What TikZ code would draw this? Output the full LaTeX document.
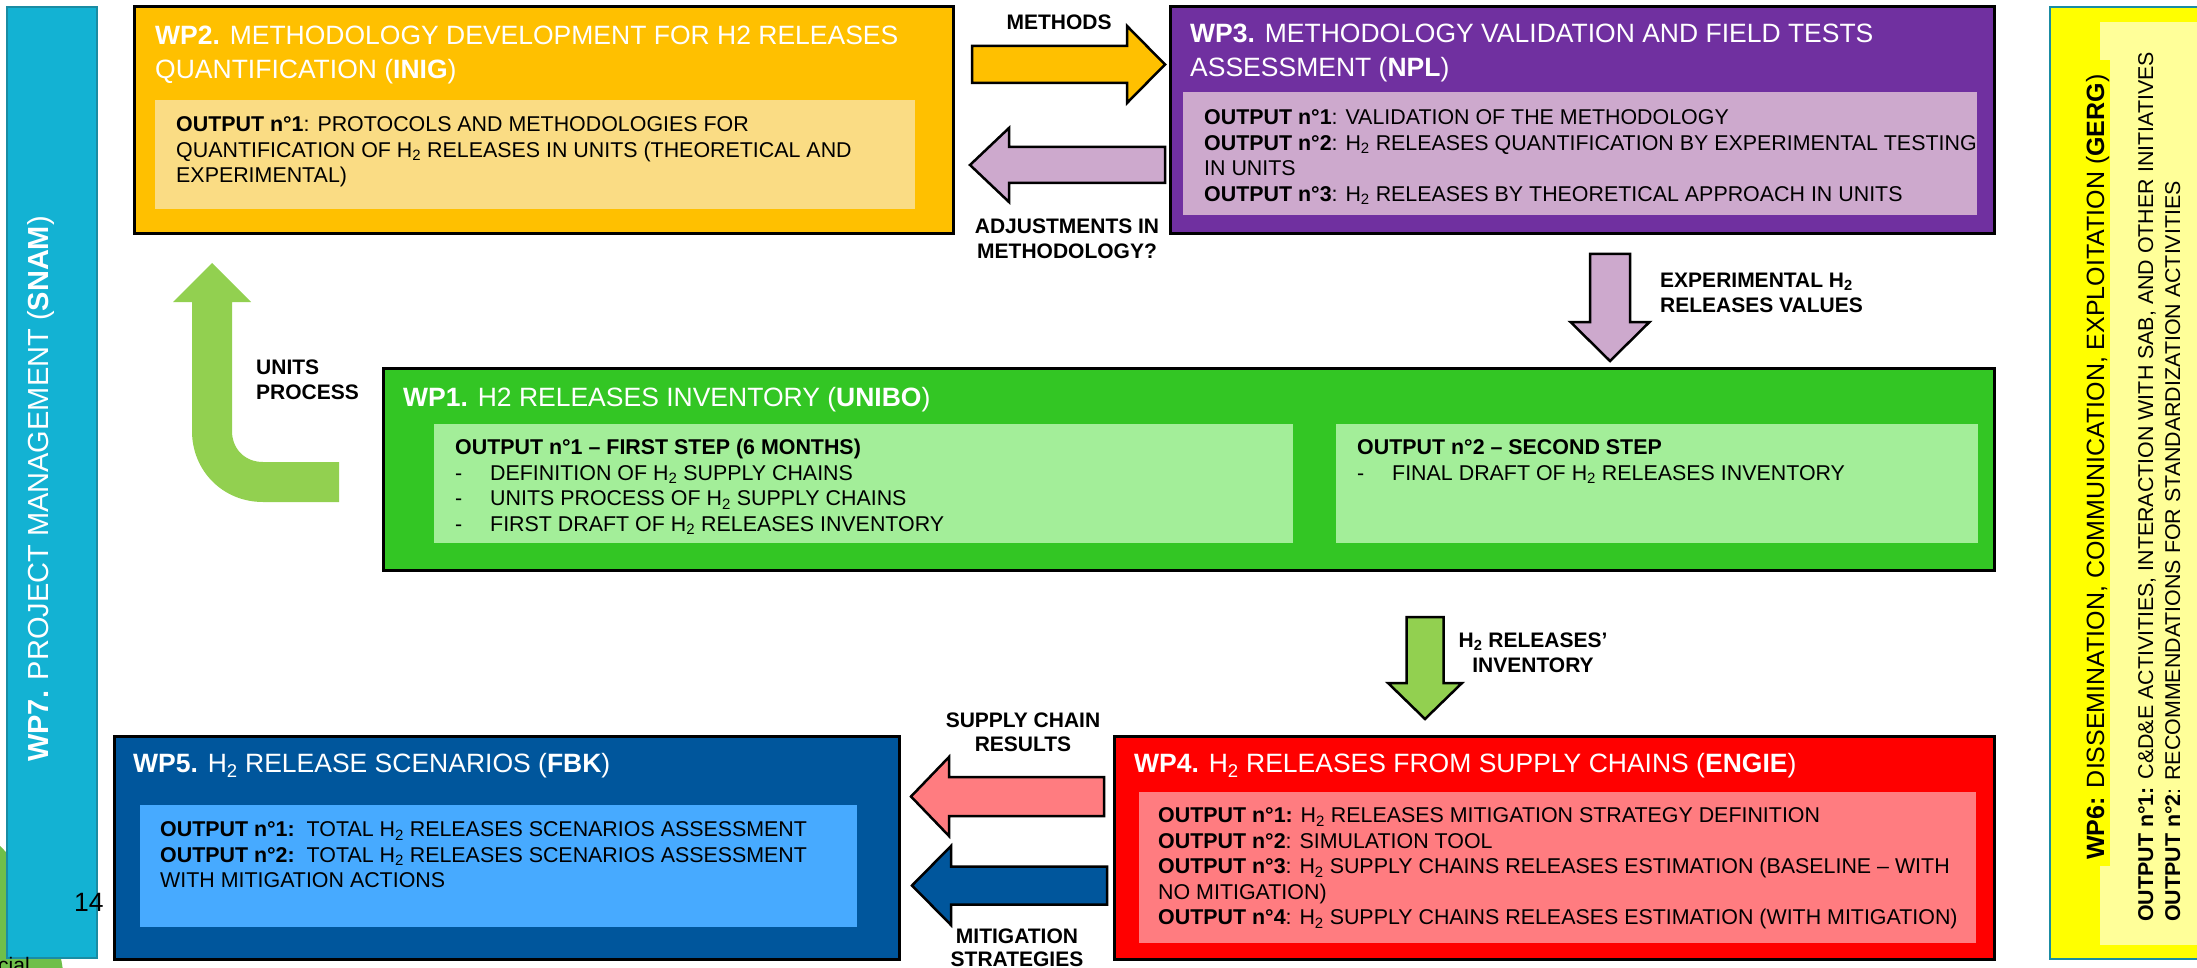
\documentclass[tikz,border=0pt]{standalone}
\usepackage{fontspec}
\setmainfont{Liberation Sans}
\usetikzlibrary{calc}
\definecolor{wpsev}{HTML}{13B2D3}
\definecolor{wpsevd}{HTML}{1A8CA3}
\definecolor{wptwo}{HTML}{FFC000}
\definecolor{wptwoi}{HTML}{FADC84}
\definecolor{wpthree}{HTML}{7030A0}
\definecolor{wpthreei}{HTML}{CDA9CD}
\definecolor{wpone}{HTML}{33C624}
\definecolor{wponei}{HTML}{A3EE99}
\definecolor{wpfour}{HTML}{FF0000}
\definecolor{wpfouri}{HTML}{FF7C80}
\definecolor{wpfive}{HTML}{00569C}
\definecolor{wpfivei}{HTML}{47AAFF}
\definecolor{wpsix}{HTML}{FFFF00}
\definecolor{wpsixi}{HTML}{FFFF99}
\definecolor{lgreen}{HTML}{92D050}
\definecolor{blob}{HTML}{6FBF4A}
\newcommand\blockarrow[6]{%
  \path ($(#3)!#6!(#2)$) coordinate (hb);
  \draw[#1] ($(#2)!#4!90:(#3)$) -- ($(hb)!#4!90:(#3)$) -- ($(hb)!#5!90:(#3)$) -- (#3)
    -- ($(hb)!#5!-90:(#3)$) -- ($(hb)!#4!-90:(#3)$) -- ($(#2)!#4!-90:(#3)$) -- cycle;}
\newcommand\sT{\rule{0pt}{20pt}}
\newcommand\sO{\rule{0pt}{16pt}}
\newcommand\Hy{H\textsubscript{2}}
\newcommand\bul{\makebox[35pt][l]{-}}
\begin{document}
\begin{tikzpicture}[x=1pt,y=-1pt,
  wpbox/.style={draw=black,line width=3pt,inner sep=0,outer sep=0,anchor=north west},
  inbox/.style={draw=none,inner sep=0,outer sep=0,anchor=north west},
  ttl/.style={inner sep=0,anchor=north west,align=left,text=white,font=\fontsize{26.5}{34}\selectfont},
  otx/.style={inner sep=0,anchor=north west,align=left,text=black,font=\fontsize{21.4}{25.5}\selectfont},
  lab/.style={inner sep=0,align=center,font=\fontsize{21}{25}\selectfont\bfseries},
  arr/.style={draw=black,line width=2.5pt,line join=miter},
]
\useasboundingbox (0,0) rectangle (2197,968);
% background slide remnants
\fill[blob] (-150,1000) circle (215);
% WP7 sidebar
\node[inbox,draw=wpsevd,line width=2pt,fill=wpsev,minimum width=90pt,minimum height=951pt] (wp7) at (7,7) {};
\node[rotate=90,anchor=base,inner sep=0,text=white,font=\fontsize{29}{34}\selectfont] (t7) at (48,489)
  {\textbf{WP7.} PROJECT MANAGEMENT (\textbf{SNAM})};
% WP6 sidebar
\node[inbox,draw=wpsevd,line width=2pt,fill=wpsix,minimum width=200pt,minimum height=952pt] (wp6) at (2050,7) {};
\node[inbox,fill=wpsixi,minimum width=150pt,minimum height=923pt] (wp6i) at (2100,22) {};
\fill[wpsix] (2098,60) rectangle (2110,866);
\node[rotate=90,anchor=base west,inner sep=0,font=\fontsize{25}{30}\selectfont] (t6) at (2104,860)
  {\textbf{WP6:} DISSEMINATION, COMMUNICATION, EXPLOITATION (\textbf{GERG})};
\node[rotate=90,anchor=base west,inner sep=0,font=\fontsize{21.4}{25}\selectfont] (o6a) at (2153,922)
  {\textbf{OUTPUT n°1:} C\&D\&E ACTIVITIES, INTERACTION WITH SAB, AND OTHER INITIATIVES};
\node[rotate=90,anchor=base west,inner sep=0,font=\fontsize{21.4}{25}\selectfont] (o6b) at (2180,922)
  {\textbf{OUTPUT n°2}: RECOMMENDATIONS FOR STANDARDIZATION ACTIVITIES};
% WP2
\node[wpbox,fill=wptwo,minimum width=819pt,minimum height=227pt] (wp2) at (134,7) {};
\node[inbox,fill=wptwoi,minimum width=760pt,minimum height=109pt] (wp2i) at (155,100) {};
\node[ttl] (t2) at (155,24.5) {\sT\textbf{WP2.} METHODOLOGY DEVELOPMENT FOR H2 RELEASES\\QUANTIFICATION (\textbf{INIG})};
\node[otx] (o2) at (176,115.7) {\sO\textbf{OUTPUT n°1}: PROTOCOLS AND METHODOLOGIES FOR\\QUANTIFICATION OF \Hy{} RELEASES IN UNITS (THEORETICAL AND\\EXPERIMENTAL)};
% WP3
\node[wpbox,fill=wpthree,minimum width=824pt,minimum height=227pt] (wp3) at (1170,7) {};
\node[inbox,fill=wpthreei,minimum width=794pt,minimum height=123pt] (wp3i) at (1183,92) {};
\node[ttl] (t3) at (1190,22.5) {\sT\textbf{WP3.} METHODOLOGY VALIDATION AND FIELD TESTS\\ASSESSMENT (\textbf{NPL})};
\node[otx] (o3) at (1204,108.7) {\sO\textbf{OUTPUT n°1}: VALIDATION OF THE METHODOLOGY\\
  \textbf{OUTPUT n°2}: \Hy{} RELEASES QUANTIFICATION BY EXPERIMENTAL TESTING\\IN UNITS\\
  \textbf{OUTPUT n°3}: \Hy{} RELEASES BY THEORETICAL APPROACH IN UNITS};
% WP1
\node[wpbox,fill=wpone,minimum width=1611pt,minimum height=202pt] (wp1) at (383,368) {};
\node[inbox,fill=wponei,minimum width=859pt,minimum height=119pt] (wp1a) at (434,424) {};
\node[inbox,fill=wponei,minimum width=642pt,minimum height=119pt] (wp1b) at (1336,424) {};
\node[ttl] (t1) at (403,386.5) {\sT\textbf{WP1.} H2 RELEASES INVENTORY (\textbf{UNIBO})};
\node[otx] (o1a) at (455,438.7) {\sO\textbf{OUTPUT n°1 – FIRST STEP (6 MONTHS)}\\
  \bul DEFINITION OF \Hy{} SUPPLY CHAINS\\\bul UNITS PROCESS OF \Hy{} SUPPLY CHAINS\\
  \bul FIRST DRAFT OF \Hy{} RELEASES INVENTORY};
\node[otx] (o1b) at (1357,438.7) {\sO\textbf{OUTPUT n°2 – SECOND STEP}\\\bul FINAL DRAFT OF \Hy{} RELEASES INVENTORY};
% WP5
\node[wpbox,fill=wpfive,minimum width=785pt,minimum height=223pt] (wp5) at (114,736) {};
\node[inbox,fill=wpfivei,minimum width=717pt,minimum height=122pt] (wp5i) at (140,805) {};
\node[ttl] (t5) at (133,752.5) {\sT\textbf{WP5.} \Hy{} RELEASE SCENARIOS (\textbf{FBK})};
\node[otx] (o5) at (160,820.7) {\sO\textbf{OUTPUT n°1:}\ \ TOTAL \Hy{} RELEASES SCENARIOS ASSESSMENT\\
  \textbf{OUTPUT n°2:}\ \ TOTAL \Hy{} RELEASES SCENARIOS ASSESSMENT\\WITH MITIGATION ACTIONS};
% WP4
\node[wpbox,fill=wpfour,minimum width=880pt,minimum height=223pt] (wp4) at (1114,736) {};
\node[inbox,fill=wpfouri,minimum width=837pt,minimum height=151pt] (wp4i) at (1139,792) {};
\node[ttl] (t4) at (1134,752.5) {\sT\textbf{WP4.} \Hy{} RELEASES FROM SUPPLY CHAINS (\textbf{ENGIE})};
\node[otx] (o4) at (1158,806.7) {\sO\textbf{OUTPUT n°1:} \Hy{} RELEASES MITIGATION STRATEGY DEFINITION\\
  \textbf{OUTPUT n°2}: SIMULATION TOOL\\
  \textbf{OUTPUT n°3}: \Hy{} SUPPLY CHAINS RELEASES ESTIMATION (BASELINE – WITH\\NO MITIGATION)\\
  \textbf{OUTPUT n°4}: \Hy{} SUPPLY CHAINS RELEASES ESTIMATION (WITH MITIGATION)};
% arrows
\coordinate (m1) at (972,64.5);  \coordinate (m2) at (1165,64.5);
\coordinate (a1) at (1165,165);  \coordinate (a2) at (970,165);
\coordinate (e1) at (1610,254);  \coordinate (e2) at (1610,361);
\coordinate (i1) at (1425,617);  \coordinate (i2) at (1425,719);
\coordinate (s1) at (1104,796.5); \coordinate (s2) at (911,796.5);
\coordinate (g1) at (1107,885.5); \coordinate (g2) at (912,885.5);
\blockarrow{arr,fill=wptwo}{m1}{m2}{18.5pt}{38.5pt}{38pt}
\blockarrow{arr,fill=wpthreei}{a1}{a2}{18pt}{37pt}{39pt}
\blockarrow{arr,fill=wpthreei}{e1}{e2}{20pt}{39.5pt}{39pt}
\blockarrow{arr,fill=lgreen}{i1}{i2}{18.5pt}{37pt}{36pt}
\blockarrow{arr,fill=wpfouri}{s1}{s2}{19.5pt}{39.5pt}{38pt}
\blockarrow{arr,fill=wpfive}{g1}{g2}{19pt}{39.5pt}{39pt}
% units process bent arrow
\coordinate (u1) at (339,482); \coordinate (u2) at (212,263);
\fill[lgreen] (339,502) -- (263,502) .. controls (223,502) and (192,471) .. (192,431) -- (192,302)
  -- (173,302) -- (u2) -- (251,302) -- (232,302) -- (232,431)
  .. controls (232,449) and (245,462) .. (263,462) -- (339,462) -- cycle;
% labels
\node[lab,anchor=north] (lm) at (1059,13.5) {\sO METHODS};
\node[lab,anchor=north] (la) at (1067,217.5) {\sO ADJUSTMENTS IN\\METHODOLOGY?};
\node[lab,anchor=north west,align=left] (le) at (1660,271.5) {\sO EXPERIMENTAL \Hy\\RELEASES VALUES};
\node[lab,anchor=north west,align=left] (lu) at (256,358.5) {\sO UNITS\\PROCESS};
\node[lab,anchor=north] (li) at (1533,631.5) {\sO\Hy{} RELEASES’\\INVENTORY};
\node[lab,anchor=north,font=\fontsize{21}{23.5}\selectfont\bfseries] (ls) at (1023,711.5) {\sO SUPPLY CHAIN\\RESULTS};
\node[lab,anchor=north,font=\fontsize{21}{23}\selectfont\bfseries] (lg) at (1017,927.5) {\sO MITIGATION\\STRATEGIES};
% slide remnants
\node[anchor=base west,inner sep=0,font=\fontsize{26.5}{30}\selectfont] (pg) at (74,911) {14};
\node[anchor=base west,inner sep=0,font=\fontsize{21}{25}\selectfont] (cl) at (-2,972) {cial};
\end{tikzpicture}
\end{document}
